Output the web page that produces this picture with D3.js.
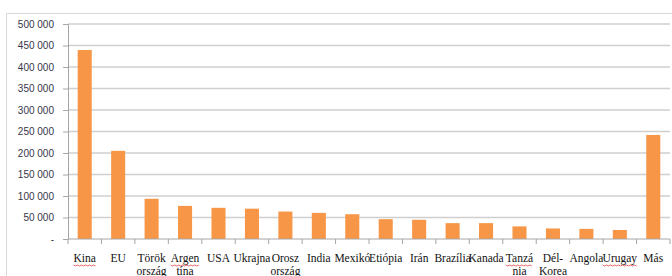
<!DOCTYPE html>
<html>
<head>
<meta charset="utf-8">
<script src="https://cdn.jsdelivr.net/npm/d3@7"></script>
<style>
  body { margin: 0; background: #fff; }
  svg { display: block; }
</style>
</head>
<body>
<script>
const width = 672;
const height = 276;

// categories (each entry is the label lines as they wrap in the picture)
const categories = ['Kina', 'EU', 'Török', 'Argentína', 'USA', 'Ukrajna', 'Orosz', 'India', 'Mexikó',
  'Etiópia', 'Irán', 'Brazília', 'Kanada', 'Tanzánia', 'Dél-Korea', 'Angola', 'Urugay', 'Más'];
const labelLines = [['Kina'], ['EU'], ['Török', 'ország'], ['Argen', 'tína'], ['USA'], ['Ukrajna'],
  ['Orosz', 'ország'], ['India'], ['Mexikó'], ['Etiópia'], ['Irán'], ['Brazília'], ['Kanada'],
  ['Tanzá', 'nia'], ['Dél-', 'Korea'], ['Angola'], ['Urugay'], ['Más']];
const values = [439500, 205000, 93500, 77000, 72500, 70500, 63800, 60800, 57600,
  46100, 44700, 36900, 36900, 29300, 24500, 23500, 21000, 242000];
const yTicks = [0, 50000, 100000, 150000, 200000, 250000, 300000, 350000, 400000, 450000, 500000];
const misspelled = ['Kina', 'Argen', 'Tanzá', 'Urugay'];

const margin = {top: 24, left: 68, right: 2, bottom: 37};

const svg = d3.select('body')
  .append('svg')
    .attr('width', width)
    .attr('height', height);

// outer frame
svg.append('rect')
  .attr('x', 6.5)
  .attr('y', 13.5)
  .attr('width', width)
  .attr('height', height)
  .attr('fill', 'none')
  .attr('stroke', '#d9d9d9');

const x = d3.scaleBand()
  .domain(categories)
  .range([margin.left, width - margin.right])
  .paddingInner(0.58)
  .paddingOuter(0.29);

const y = d3.scaleLinear()
  .domain([0, 500000])
  .range([height - margin.bottom, margin.top]);

const fmt = v => v === 0 ? '-' : d3.format(',')(v).replace(/,/g, ' ');

// gridlines
svg.append('g')
  .selectAll('line')
  .data(yTicks.filter(d => d > 0))
  .enter()
  .append('line')
    .attr('x1', margin.left)
    .attr('x2', width - margin.right)
    .attr('y1', d => y(d))
    .attr('y2', d => y(d))
    .attr('stroke', '#cfcfcf')
    .attr('stroke-width', 1.5);

// y axis
const yAxis = svg.append('g')
  .attr('transform', `translate(${margin.left},0)`)
  .call(d3.axisLeft(y).tickValues(yTicks).tickFormat(fmt).tickSize(5).tickPadding(9));
yAxis.select('.domain').attr('stroke', '#a6a6a6');
yAxis.selectAll('.tick line').attr('stroke', '#a6a6a6');
yAxis.selectAll('text')
  .attr('font-family', 'Liberation Sans, Arial, sans-serif')
  .attr('font-size', 10)
  .attr('fill', '#36364a');

// bars
svg.selectAll('rect.bar')
  .data(values)
  .enter()
  .append('rect')
    .attr('class', 'bar')
    .attr('x', (d, i) => x(categories[i]))
    .attr('y', d => y(d))
    .attr('width', x.bandwidth())
    .attr('height', d => y(0) - y(d))
    .attr('fill', '#f79646');

// x axis line and category ticks
const step = x.step();
const x0 = margin.left;
const bottom = y(0);
svg.append('line')
  .attr('x1', x0)
  .attr('x2', width - margin.right)
  .attr('y1', bottom)
  .attr('y2', bottom)
  .attr('stroke', '#a6a6a6');

svg.append('g')
  .selectAll('line')
  .data(d3.range(categories.length + 1))
  .enter()
  .append('line')
    .attr('x1', i => x0 + i * step)
    .attr('x2', i => x0 + i * step)
    .attr('y1', bottom)
    .attr('y2', bottom + 5)
    .attr('stroke', '#a6a6a6');

// category labels
const labels = svg.append('g')
  .selectAll('text')
  .data(labelLines)
  .enter()
  .append('text')
    .attr('text-anchor', 'middle')
    .attr('font-family', 'Liberation Serif, Times New Roman, serif')
    .attr('font-size', 11.5)
    .attr('fill', '#111');

labels.each(function(lines, i) {
  const t = d3.select(this);
  const cx = x(categories[i]) + x.bandwidth() / 2;
  lines.forEach((line, j) => {
    t.append('tspan')
      .attr('x', cx)
      .attr('y', 262 + j * 13)
      .text(line);
  });
});

// spell-check squiggles under some words
labels.selectAll('tspan').each(function() {
  const word = d3.select(this).text();
  if (!misspelled.includes(word)) return;
  const len = this.getComputedTextLength();
  const cx = +d3.select(this).attr('x');
  const by = +d3.select(this).attr('y') + 3;
  const pts = d3.range(0, Math.floor(len / 2) + 1).map(k => [cx - len / 2 + k * 2, by + (k % 2 ? 1 : 0)]);
  svg.append('path')
    .attr('d', d3.line()(pts))
    .attr('fill', 'none')
    .attr('stroke', '#e04040')
    .attr('stroke-width', 0.8);
});
</script>
</body>
</html>
